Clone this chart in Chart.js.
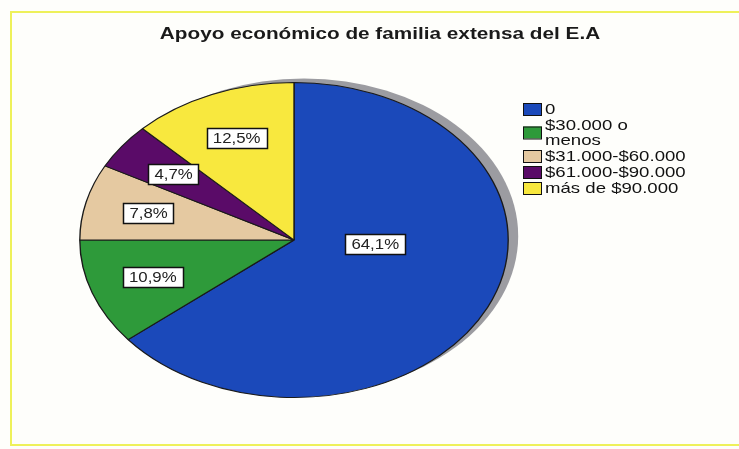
<!DOCTYPE html>
<html>
<head>
<meta charset="utf-8">
<script src="https://cdn.jsdelivr.net/npm/chart.js@4.4.0/dist/chart.umd.min.js"></script>
<style>
  html, body { margin: 0; padding: 0; background: #fff; }
  #wrap { width: 739px; height: 449px; }
</style>
</head>
<body>
<div id="wrap"><canvas id="pieChart" width="739" height="449"></canvas></div>
<script>
// Chart data
const chartTitle = 'Apoyo económico de familia extensa del E.A';
const categories = ['0', ['$30.000 o', 'menos'], '$31.000-$60.000', '$61.000-$90.000', 'más de $90.000'];
const percentages = [64.1, 10.9, 7.8, 4.7, 12.5];
const sliceColors = ['#1b49ba', '#2e9a3a', '#e5c9a1', '#5a0b68', '#f8e83e'];

const FONT = '"Liberation Sans", Arial, sans-serif';

// draws text squeezed/stretched horizontally around its anchor
function drawText(ctx, text, x, y, align, stretch) {
    ctx.save();
    ctx.translate(x, y);
    ctx.scale(stretch, 1);
    ctx.textAlign = align;
    ctx.fillText(text, 0, 0);
    ctx.restore();
}

// Squashed pie with a drop shadow, value boxes, title and legend
const ellipsePie = {
    id: 'ellipsePie',
    beforeDraw(chart) {
        const ctx = chart.ctx;
        ctx.save();
        ctx.fillStyle = '#fefefb';
        ctx.fillRect(0, 0, chart.width, chart.height);
        ctx.strokeStyle = '#eef15a';
        ctx.lineWidth = 2;
        ctx.strokeRect(11, 12, chart.width, 433);

        ctx.fillStyle = '#1a1a1a';
        ctx.font = 'bold 17px ' + FONT;
        ctx.textBaseline = 'middle';
        drawText(ctx, chartTitle, 380, 34, 'center', 1.22);
        ctx.restore();
    },
    beforeDatasetsDraw(chart, args, opts) {
        const ctx = chart.ctx;
        const arc = chart.getDatasetMeta(0).data[0];
        const {x, y, outerRadius} = arc.getProps(['x', 'y', 'outerRadius'], true);
        ctx.save();
        ctx.fillStyle = opts.shadowColor;
        ctx.beginPath();
        ctx.ellipse(x + 10, y - 4, outerRadius * opts.stretchX, outerRadius, 0, 0, Math.PI * 2);
        ctx.fill();
        ctx.translate(x, y);
        ctx.scale(opts.stretchX, 1);
        ctx.translate(-x, -y);
    },
    afterDatasetsDraw(chart, args, opts) {
        const ctx = chart.ctx;
        ctx.restore();

        // value boxes
        const meta = chart.getDatasetMeta(0);
        ctx.save();
        ctx.font = '15px ' + FONT;
        ctx.textBaseline = 'middle';
        meta.data.forEach((arc, i) => {
            const p = arc.getProps(['x', 'y', 'startAngle', 'endAngle', 'outerRadius'], true);
            const tweak = opts.labelTweaks[i] || {};
            const mid = (p.startAngle + p.endAngle) / 2 + (tweak.shift || 0) * Math.PI / 180;
            const f = tweak.r || opts.labelRadius;
            const lx = p.x + Math.cos(mid) * p.outerRadius * f * opts.stretchX;
            const ly = p.y + Math.sin(mid) * p.outerRadius * f;
            const txt = chart.data.datasets[0].data[i].toFixed(1).replace('.', ',') + '%';
            const w = ctx.measureText(txt).width * 1.12 + 12;
            const h = 20;
            ctx.fillStyle = '#ffffff';
            ctx.fillRect(Math.round(lx - w / 2) + 0.5, Math.round(ly - h / 2) + 0.5, Math.round(w), h);
            ctx.strokeStyle = '#111';
            ctx.lineWidth = 1.5;
            ctx.strokeRect(Math.round(lx - w / 2) + 0.5, Math.round(ly - h / 2) + 0.5, Math.round(w), h);
            ctx.fillStyle = '#222';
            drawText(ctx, txt, lx, ly + 1, 'center', 1.12);
        });

        // legend
        const lg = opts.legend;
        let base = lg.top;
        ctx.font = lg.fontSize + 'px ' + FONT;
        ctx.textBaseline = 'alphabetic';
        chart.data.labels.forEach((label, i) => {
            const lines = Array.isArray(label) ? label : [label];
            const first = base;
            lines.forEach((line, j) => {
                ctx.fillStyle = '#111';
                drawText(ctx, line, lg.textX, base, 'left', lg.stretch);
                if (j < lines.length - 1) base += lg.lineHeight;
            });
            const midY = (first + base) / 2 - 5;
            ctx.fillStyle = sliceColors[i];
            ctx.fillRect(lg.boxX, midY - 6, 19, 12);
            ctx.strokeStyle = '#111';
            ctx.lineWidth = 1;
            ctx.strokeRect(lg.boxX + 0.5, midY - 6 + 0.5, 18, 12);
            base += lg.lineHeight + lg.gap;
        });
        ctx.restore();
    }
};

new Chart(document.getElementById('pieChart'), {
    type: 'pie',
    data: {
        labels: categories,
        datasets: [{
            data: percentages,
            backgroundColor: sliceColors,
            borderColor: '#1a1a1a',
            borderWidth: 1
        }]
    },
    options: {
        responsive: false,
        animation: false,
        layout: {
            padding: { left: 136, right: 287, top: 82, bottom: 51 }
        },
        plugins: {
            legend: { display: false },
            tooltip: { enabled: false },
            ellipsePie: {
                stretchX: 1.36,
                shadowColor: '#9c9ca1',
                labelRadius: 0.7,
                labelTweaks: { 0: { shift: -22, r: 0.38 } },
                legend: { boxX: 523, textX: 545, top: 114, fontSize: 15, lineHeight: 15, gap: 1, stretch: 1.24 }
            }
        }
    },
    plugins: [ellipsePie]
});
</script>
</body>
</html>
